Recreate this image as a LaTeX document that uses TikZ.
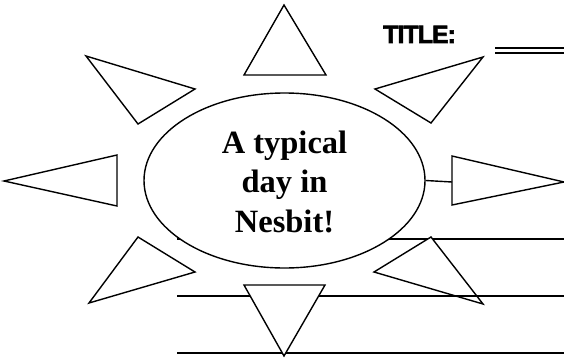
\documentclass[tikz,border=0pt]{standalone}
\usepackage{fontspec}
\setmainfont{Liberation Serif}
\newfontfamily\titlefont[LetterSpace=-4, FakeBold=2.5]{Liberation Sans Bold}
\usetikzlibrary{shapes.geometric}
\tikzset{
  ray/.style={draw=black, line width=1.4pt, fill=white, line join=miter},
  rule/.style={draw=black, line width=1.6pt},
}
\begin{document}
\begin{tikzpicture}[x=1pt,y=-1pt]
\useasboundingbox (0,0) rectangle (564,361);
% writing lines
\draw[rule] (177,239) -- (564,239);
\draw[rule] (177,353) -- (564,353);
% rays
\draw[ray] (244,75) -- (284,5) -- (326,75) -- cycle;
\draw[ray] (375,89) -- (483,57) -- (431,123) -- cycle;
\draw[ray] (86,56) -- (195,89) -- (138,124) -- cycle;
\draw[ray] (4,181) -- (117,155) -- (117,206) -- cycle;
\draw[ray] (452,156) -- (564,182) -- (452,205) -- cycle;
\coordinate (rtip) at (452,182);
\draw[ray] (138,237) -- (195,272) -- (89,303) -- cycle;
\draw[ray] (431,237) -- (374,272) -- (483,304) -- cycle;
\draw[rule] (177,296) -- (564,296);
\draw[ray] (244,285) -- (325,285) -- (284,356) -- cycle;
% centre
\node[ellipse, draw=black, line width=1.4pt, fill=white, minimum width=281pt, minimum height=175pt, inner sep=0pt] (sun) at (284.5,180.5) {};
\node[align=center, font=\bfseries\fontsize{32.5}{39.5}\selectfont, inner sep=0pt, anchor=base] (txt) at (284.5,232) {A typical\\day in\\Nesbit!};
\draw[line width=1.4pt] (sun.east) -- (rtip);
% title
\node[anchor=base west, inner sep=0pt, font=\titlefont\fontsize{25}{25}\selectfont] (title) at (383,43) {TITLE:};
\coordinate (tl) at (495,48);
\coordinate (tr) at (564,48);
\draw[line width=1.8pt] (tl) -- (tr);
\draw[line width=1.8pt] ([yshift=-5pt]tl) -- ([yshift=-5pt]tr);
\end{tikzpicture}
\end{document}
